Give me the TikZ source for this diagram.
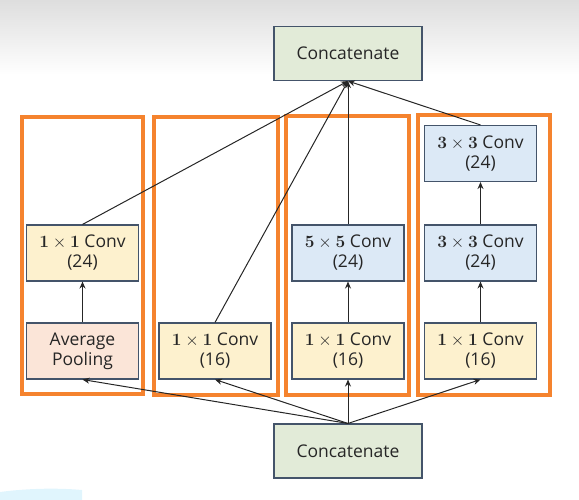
\documentclass[tikz,border=0pt]{standalone}
\usepackage[no-math]{fontspec}
\setmainfont{Open Sans}
\usetikzlibrary{arrows.meta}
\definecolor{edge}{HTML}{44546A}
\definecolor{cgreen}{HTML}{E2EBD8}
\definecolor{cyellow}{HTML}{FDF1CE}
\definecolor{cblue}{HTML}{DCE9F6}
\definecolor{cpink}{HTML}{FBE5D8}
\definecolor{corange}{HTML}{F5832E}
\tikzset{
  blk/.style={draw=edge, line width=1.1pt, minimum width=112pt, minimum height=56pt,
    inner sep=0pt, align=center, font=\fontsize{17.5}{20}\selectfont, text=black!85},
  cat/.style={blk, fill=cgreen, minimum width=148pt, minimum height=54pt},
  yel/.style={blk, fill=cyellow},
  blu/.style={blk, fill=cblue},
  pnk/.style={blk, fill=cpink},
  grp/.style={draw=corange, line width=3.5pt},
  arr/.style={-{Stealth[length=7pt,width=6pt]}, line width=1pt, draw=black!85},
}
\newcommand{\kxk}[1]{$\mathbf{#1}\times\mathbf{#1}$ Conv}
\begin{document}
\begin{tikzpicture}[x=1pt,y=-1pt]
\useasboundingbox (0,0) rectangle (579,500);
\shade[top color=black!13, bottom color=white] (0,0) rectangle (579,75);
\fill[cyan!12] (0,500) -- (0,492) .. controls (30,488) and (60,488) .. (82,490) -- (82,500) -- cycle;
% group frames
\draw[grp] (22,117) rectangle (143,394);
\draw[grp] (154,117) rectangle (278,395);
\draw[grp] (286,116) rectangle (409,395);
\draw[grp] (418,115) rectangle (550,395);
% nodes
\node[cat] (top) at (348,53.5) {Concatenate};
\node[cat] (bot) at (348,451) {Concatenate};
\node[pnk] (ap) at (82.5,351) {Average\\Pooling};
\node[yel] (a1) at (82.5,253) {\kxk{1}\\(24)};
\node[yel] (b1) at (215,351) {\kxk{1}\\(16)};
\node[yel] (c1) at (348,351) {\kxk{1}\\(16)};
\node[blu] (c2) at (348,253) {\kxk{5}\\(24)};
\node[yel] (d1) at (480.5,351) {\kxk{1}\\(16)};
\node[blu] (d2) at (480.5,253) {\kxk{3}\\(24)};
\node[blu] (d3) at (480.5,153.5) {\kxk{3}\\(24)};
% connectors from bottom
\draw[arr] (bot.north) -- (ap.south);
\draw[arr] (bot.north) -- (b1.south);
\draw[arr] (bot.north) -- (c1.south);
\draw[arr] (bot.north) -- (d1.south);
% inner
\draw[arr] (ap.north) -- (a1.south);
\draw[arr] (c1.north) -- (c2.south);
\draw[arr] (d1.north) -- (d2.south);
\draw[arr] (d2.north) -- (d3.south);
% to top
\draw[arr] (a1.north) -- (top.south);
\draw[arr] (b1.north) -- (top.south);
\draw[arr] (c2.north) -- (top.south);
\draw[arr] (d3.north) -- (top.south);
\end{tikzpicture}
\end{document}
